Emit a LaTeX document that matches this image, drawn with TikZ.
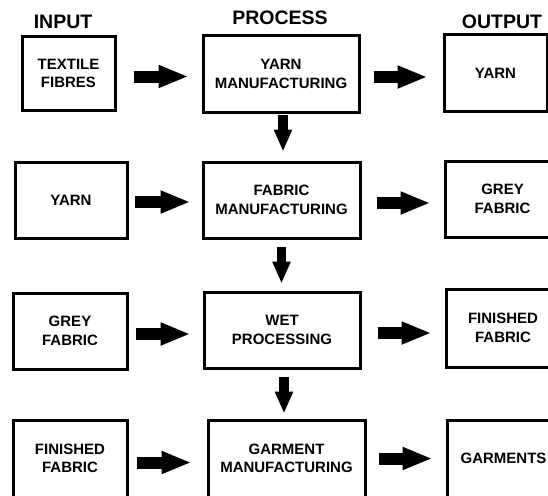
\documentclass[tikz,border=0pt]{standalone}
\usepackage{fontspec}
\setmainfont{Liberation Sans}
\usetikzlibrary{arrows.meta}
\begin{document}
\begin{tikzpicture}[x=1pt,y=-1pt,
  box/.style={draw=black, line width=3pt, fill=white, rectangle, align=center,
    font=\bfseries\fontsize{15}{18.5}\selectfont, inner sep=0pt},
  hdr/.style={font=\bfseries\fontsize{19.5}{22}\selectfont, inner sep=0pt},
  harrow/.style={line width=12pt, -{Triangle[length=30pt,width=21pt]}},
  varrow/.style={line width=9.5pt, -{Triangle[length=22pt,width=17pt]}}]
\useasboundingbox (0,0) rectangle (548,495);
\fill[white] (0,0) rectangle (548,495);
% headers
\node[hdr] (hin) at (63,22) {INPUT};
\node[hdr] (hpr) at (280,18) {PROCESS};
\node[hdr] (hout) at (502,22) {OUTPUT};
% row 1
\node[box, minimum width=93pt, minimum height=73pt] (in1) at (68.5,73.5) {TEXTILE\\FIBRES};
\node[box, minimum width=156pt, minimum height=76pt] (pr1) at (281,74) {YARN\\MANUFACTURING};
\node[box, minimum width=103pt, minimum height=76pt] (out1) at (495.5,73) {YARN};
% row 2
\node[box, minimum width=112pt, minimum height=76pt] (in2) at (71,200) {YARN};
\node[box, minimum width=157pt, minimum height=76pt] (pr2) at (281.5,200) {FABRIC\\MANUFACTURING};
\node[box, minimum width=115pt, minimum height=76pt] (out2) at (502.5,199) {GREY\\FABRIC};
% row 3
\node[box, minimum width=114pt, minimum height=76pt] (in3) at (70,331) {GREY\\FABRIC};
\node[box, minimum width=156pt, minimum height=76pt] (pr3) at (282,330) {WET\\PROCESSING};
\node[box, minimum width=114pt, minimum height=78pt] (out3) at (503,328) {FINISHED\\FABRIC};
% row 4
\node[box, minimum width=114pt, minimum height=77pt] (in4) at (70,458.5) {FINISHED\\FABRIC};
\node[box, minimum width=157pt, minimum height=77pt] (pr4) at (286.5,458.5) {GARMENT\\MANUFACTURING};
\node[box, minimum width=113pt, minimum height=77pt] (out4) at (503.5,458.5) {GARMENTS};
% horizontal arrows
\draw[harrow, shorten <=17pt, shorten >=13pt] ([yshift=-3pt]in1.east) -- ([yshift=-3pt]in1.east -| pr1.west);
\draw[harrow, shorten <=13pt, shorten >=15pt] ([yshift=-3pt]pr1.east) -- ([yshift=-3pt]pr1.east -| out1.west);
\draw[harrow, shorten <=6pt, shorten >=11pt] ([yshift=-2pt]in2.east) -- ([yshift=-2pt]in2.east -| pr2.west);
\draw[harrow, shorten <=15pt, shorten >=13pt] ([yshift=-3pt]pr2.east) -- ([yshift=-3pt]pr2.east -| out2.west);
\draw[harrow, shorten <=7pt, shorten >=12pt] ([yshift=-3pt]in3.east) -- ([yshift=-3pt]in3.east -| pr3.west);
\draw[harrow, shorten <=16pt, shorten >=13pt] ([yshift=-3pt]pr3.east) -- ([yshift=-3pt]pr3.east -| out3.west);
\draw[harrow, shorten <=8pt, shorten >=15pt] ([yshift=-4pt]in4.east) -- ([yshift=-4pt]in4.east -| pr4.west);
\draw[harrow, shorten <=12pt, shorten >=13pt] ([yshift=0pt]pr4.east) -- ([yshift=0pt]pr4.east -| out4.west);
% vertical arrows
\draw[varrow, shorten <=1pt, shorten >=9pt] ([xshift=2pt]pr1.south) -- ([xshift=2pt]pr1.south |- pr2.north);
\draw[varrow, shorten <=7pt, shorten >=7pt] (pr2.south) -- (pr2.south |- pr3.north);
\draw[varrow, shorten <=7pt, shorten >=5pt] ([xshift=2pt]pr3.south) -- ([xshift=2pt]pr3.south |- pr4.north);
\end{tikzpicture}
\end{document}
